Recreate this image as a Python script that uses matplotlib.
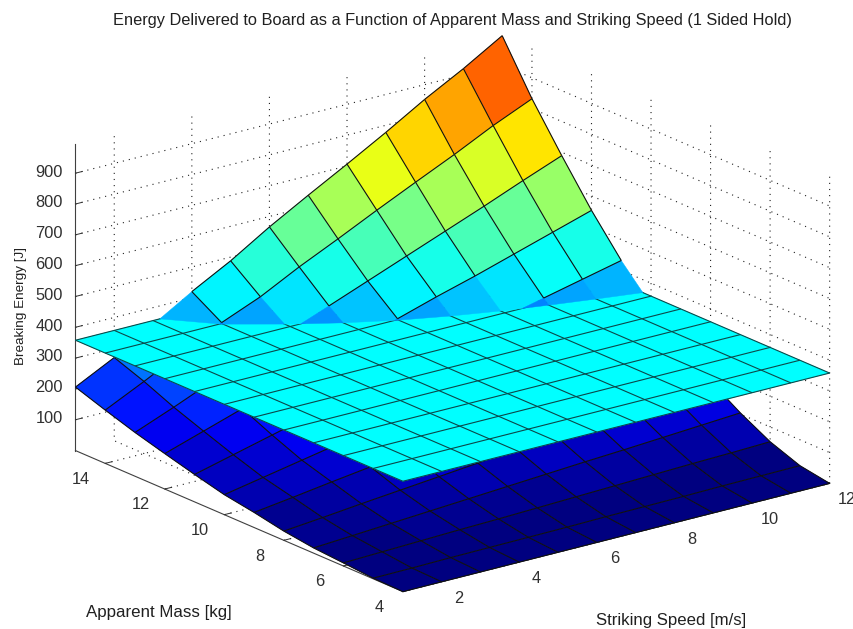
import matplotlib
matplotlib.use('Agg')
import matplotlib.pyplot as plt
from matplotlib.colors import LinearSegmentedColormap
from mpl_toolkits.mplot3d.art3d import Poly3DCollection, Line3DCollection

speed = [1, 2, 3, 4, 5, 6, 7, 8, 9, 10, 11, 12]
mass = [4, 5, 6, 7, 8, 9, 10, 11, 12, 13, 14, 15]

# breaking energy, one row per mass, one column per speed
energy = [
    [0, 0, 0, 0, 0, 0, 0, 0, 0, 0, 0, 0],
    [2, 3, 5, 6, 7, 8, 10, 11, 12, 14, 15, 16],
    [10, 14, 18, 22, 25, 29, 33, 37, 41, 45, 48, 52],
    [17, 25, 33, 41, 49, 57, 65, 73, 80, 88, 96, 104],
    [30, 42, 55, 67, 79, 91, 104, 116, 128, 140, 153, 165],
    [49, 66, 84, 101, 118, 136, 153, 171, 188, 205, 223, 240],
    [65, 89, 113, 137, 161, 185, 209, 233, 257, 281, 305, 330],
    [89, 121, 153, 185, 217, 249, 281, 313, 345, 374, 403, 432],
    [115, 156, 197, 238, 279, 320, 361, 400, 436, 475, 514, 553],
    [142, 192, 245, 295, 345, 393, 442, 491, 540, 589, 640, 689],
    [173, 234, 298, 361, 413, 478, 537, 598, 657, 715, 777, 832],
    [206, 270, 345, 420, 488, 566, 637, 706, 777, 852, 920, 995],
]
board_energy = 358  # flat sheet

speed_ticks = [2, 4, 6, 8, 10, 12]
mass_ticks = [4, 6, 8, 10, 12, 14]
energy_ticks = [100, 200, 300, 400, 500, 600, 700, 800, 900]

z_max = 995
# same anchors as the matlab jet map
jet = LinearSegmentedColormap('matlab_jet', {
    'red': [(0, 0, 0), (0.375, 0, 0), (0.625, 1, 1), (0.875, 1, 1), (1, 0.5, 0.5)],
    'green': [(0, 0, 0), (0.125, 0, 0), (0.375, 1, 1), (0.625, 1, 1), (0.875, 0, 0), (1, 0, 0)],
    'blue': [(0, 0.5, 0.5), (0.125, 1, 1), (0.375, 1, 1), (0.625, 0, 0), (1, 0, 0)],
}, N=64)


def clip_poly(pts, level, above):
    # keep the part of a cell on one side of the sheet
    out = []
    for k in range(len(pts)):
        p = pts[k]
        q = pts[(k + 1) % len(pts)]
        p_in = (p[2] >= level) == above
        q_in = (q[2] >= level) == above
        if p_in:
            out.append(p)
        if p_in != q_in:
            f = (level - p[2]) / (q[2] - p[2])
            out.append((p[0] + f * (q[0] - p[0]), p[1] + f * (q[1] - p[1]), level))
    return out


def clip_seg(p, q, level, above):
    c = clip_poly([p, q], level, above)
    if len(c) < 2:
        return None
    return [c[0], c[-1]]


n_m = len(mass)
n_s = len(speed)
low_polys, low_cols, up_polys, up_cols = [], [], [], []
for i in range(n_m - 1):
    for j in range(n_s - 1):
        cell = [(speed[j], mass[i], energy[i][j]),
                (speed[j + 1], mass[i], energy[i][j + 1]),
                (speed[j + 1], mass[i + 1], energy[i + 1][j + 1]),
                (speed[j], mass[i + 1], energy[i + 1][j])]
        col = jet(energy[i][j] / z_max)
        lo = clip_poly(cell, board_energy, False)
        hi = clip_poly(cell, board_energy, True)
        if len(lo) > 2:
            low_polys.append(lo)
            low_cols.append(col)
        if len(hi) > 2:
            up_polys.append(hi)
            up_cols.append(col)

low_lines, up_lines = [], []
for i in range(n_m):
    for j in range(n_s):
        p = (speed[j], mass[i], energy[i][j])
        ends = []
        if j < n_s - 1:
            ends.append((speed[j + 1], mass[i], energy[i][j + 1]))
        if i < n_m - 1:
            ends.append((speed[j], mass[i + 1], energy[i + 1][j]))
        for q in ends:
            a = clip_seg(p, q, board_energy, False)
            b = clip_seg(p, q, board_energy, True)
            if a:
                low_lines.append(a)
            if b:
                up_lines.append(b)

plane_polys, plane_lines = [], []
for i in range(n_m - 1):
    for j in range(n_s - 1):
        plane_polys.append([(speed[j], mass[i], board_energy),
                            (speed[j + 1], mass[i], board_energy),
                            (speed[j + 1], mass[i + 1], board_energy),
                            (speed[j], mass[i + 1], board_energy)])
for i in range(n_m):
    plane_lines.append([(speed[0], mass[i], board_energy), (speed[-1], mass[i], board_energy)])
for j in range(n_s):
    plane_lines.append([(speed[j], mass[0], board_energy), (speed[j], mass[-1], board_energy)])

plt.rcParams['font.family'] = ['Liberation Sans', 'DejaVu Sans']
plt.rcParams['grid.color'] = '#202020'
plt.rcParams['grid.linewidth'] = 0.8
plt.rcParams['grid.linestyle'] = (0, (1, 4.5))

W, H = 854, 629
S = 803
fig = plt.figure(figsize=(W / 100, H / 100), dpi=100, facecolor='white')
ax = fig.add_axes([40.2 / W, -97 / H, S / W, S / H], projection='3d', proj_type='ortho')
ax.computed_zorder = False
ax.view_init(elev=19.3, azim=-127.5)
ax.set_box_aspect((538, 538, 325))

edge = '#101010'
ax.add_collection3d(Poly3DCollection(low_polys, facecolors=low_cols, edgecolors=low_cols, linewidths=0.3, zorder=1))
ax.add_collection3d(Line3DCollection(low_lines, colors=edge, linewidths=0.8, zorder=2))
ax.add_collection3d(Poly3DCollection(plane_polys, facecolors='#00ffff', edgecolors='#00ffff', linewidths=0.3, zorder=3))
ax.add_collection3d(Line3DCollection(plane_lines, colors='#0a4a4a', linewidths=0.8, zorder=4))
ax.add_collection3d(Poly3DCollection(up_polys, facecolors=up_cols, edgecolors=up_cols, linewidths=0.3, zorder=5))
ax.add_collection3d(Line3DCollection(up_lines, colors=edge, linewidths=0.8, zorder=6))

ax.set_xlim(speed[0], speed[-1])
ax.set_ylim(mass[0], mass[-1])
ax.set_zlim(0, z_max)
ax.set_xticks(speed_ticks)
ax.set_yticks(mass_ticks)
ax.set_zticks(energy_ticks)

for axis in (ax.xaxis, ax.yaxis, ax.zaxis):
    axis.set_pane_color((1, 1, 1, 1))
    axis.pane.set_edgecolor((1, 1, 1, 0))
    axis.line.set_color('#404040')
    axis.line.set_linewidth(0.8)
    axis._axinfo['tick']['inward_factor'] = 0
    axis._axinfo['tick']['outward_factor'] = 0.2
    axis._axinfo['tick']['linewidth'] = {True: 0.7, False: 0.5}
ax.tick_params(labelsize=11.8, colors='#303030')
ax.xaxis.set_tick_params(pad=8)
ax.yaxis.set_tick_params(pad=9)
ax.zaxis.set_tick_params(pad=2.5)
for axis in (ax.xaxis, ax.yaxis):
    for t in axis.get_major_ticks():
        t.label1.set_va('bottom')
for t in ax.zaxis.get_major_ticks():
    t.label1.set_va('center')

fig.text(452 / W, 1 - 20 / H, 'Energy Delivered to Board as a Function of Apparent Mass and Striking Speed (1 Sided Hold)',
         ha='center', va='center', fontsize=11.8, color='#202020')
fig.text(159 / W, 1 - 613 / H, 'Apparent Mass [kg]', ha='center', va='center', fontsize=12.2, color='#202020')
fig.text(671 / W, 1 - 620 / H, 'Striking Speed [m/s]', ha='center', va='center', fontsize=12.1, color='#202020')
fig.text(21 / W, 1 - 306 / H, 'Breaking Energy [J]', ha='center', va='center', rotation=90, fontsize=9.7, color='#202020')

fig.savefig('out.png', dpi=100)
